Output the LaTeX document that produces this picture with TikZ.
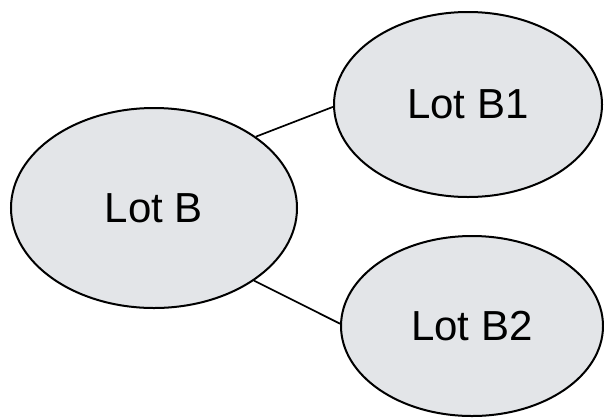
\documentclass[tikz,border=0pt]{standalone}
\usepackage{fontspec}
\setmainfont{Liberation Sans}
\usetikzlibrary{shapes.geometric}
\definecolor{lotfill}{RGB}{227,229,232}
\tikzset{
  lot/.style={ellipse, draw=black, fill=lotfill, line width=2pt, inner sep=0pt,
    font=\fontsize{42}{50}\selectfont},
  link/.style={line width=1.7pt, draw=black}
}
\begin{document}
\begin{tikzpicture}[x=1pt,y=1pt]
\useasboundingbox (0,0) rectangle (604,-418);
\node[lot, minimum width=286pt, minimum height=200pt] (B) at (154,-208) {Lot B};
\node[lot, minimum width=268pt, minimum height=185pt] (B1) at (468,-104.5) {Lot B1};
\node[lot, minimum width=262pt, minimum height=180pt] (B2) at (472,-326) {Lot B2};
\draw[link] (B.35) -- (B1.181);
\draw[link] (B.-36) -- (B2.179);
\end{tikzpicture}
\end{document}
